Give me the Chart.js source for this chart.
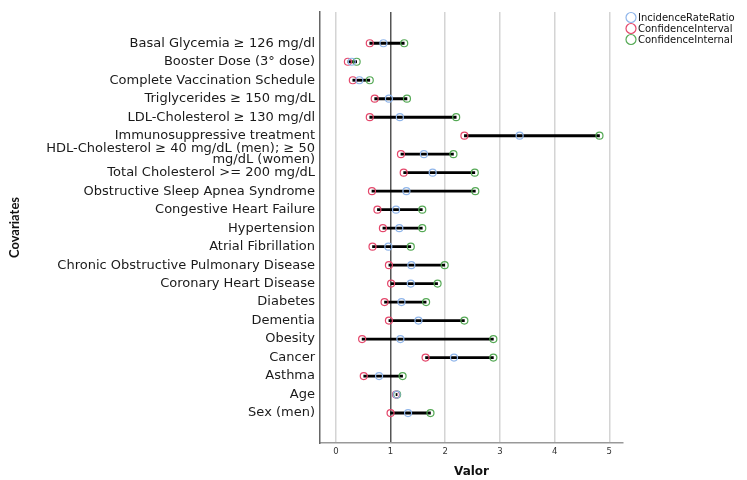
<!DOCTYPE html>
<html>
<head>
<meta charset="utf-8">
<script src="https://cdn.jsdelivr.net/npm/chart.js@4/dist/chart.umd.min.js"></script>
<style>
  html, body { margin: 0; padding: 0; background: #fff; }
  #wrap { width: 747px; height: 480px; }
</style>
</head>
<body>
<div id="wrap"><canvas id="myChart"></canvas></div>
<script>
Chart.defaults.color = '#111';
Chart.defaults.font.family = 'DejaVu Sans';


// DATA
// ================================================================
var rowLabels = [
	'Basal Glycemia \u2265 126 mg/dl',
	'Booster Dose (3\u00b0 dose)',
	'Complete Vaccination Schedule',
	'Triglycerides \u2265 150 mg/dL',
	'LDL-Cholesterol \u2265 130 mg/dl',
	'Immunosuppressive treatment',
	['HDL-Cholesterol \u2265 40 mg/dL (men); \u2265 50', 'mg/dL (women)'],
	'Total Cholesterol >= 200 mg/dL',
	'Obstructive Sleep Apnea Syndrome',
	'Congestive Heart Failure',
	'Hypertension',
	'Atrial Fibrillation',
	'Chronic Obstructive Pulmonary Disease',
	'Coronary Heart Disease',
	'Diabetes',
	'Dementia',
	'Obesity',
	'Cancer',
	'Asthma',
	'Age',
	'Sex (men)'
];

var irr    = [0.87, 0.29, 0.43, 0.97, 1.17, 3.36, 1.61, 1.77, 1.29, 1.10, 1.16, 0.96, 1.38, 1.37, 1.20, 1.51, 1.18, 2.16, 0.79, 1.11, 1.32];
var ciLow  = [0.62, 0.22, 0.31, 0.71, 0.62, 2.35, 1.19, 1.24, 0.66, 0.76, 0.86, 0.67, 0.97, 1.01, 0.89, 0.97, 0.48, 1.64, 0.51, 1.10, 1.00];
var ciHigh = [1.25, 0.38, 0.62, 1.30, 2.20, 4.82, 2.15, 2.54, 2.55, 1.58, 1.58, 1.37, 1.99, 1.86, 1.65, 2.35, 2.88, 2.88, 1.22, 1.12, 1.73];

var seriesNames = ['IncidenceRateRatio', 'ConfidenceInterval', 'ConfidenceInternal'];
var xTicks = [0, 1, 2, 3, 4, 5];

var toPoints = function (arr) {
	return arr.map(function (v, i) { return { x: v, y: i }; });
};


// Datasets
// ================================================================
var pointStyle = {
	type: 'scatter',
	backgroundColor: 'rgba(0,0,0,0)',
	pointRadius: 3.5,
	pointHoverRadius: 3.5,
	pointBorderWidth: 1.2,
	showLine: false
};

var data = {
	datasets: [
		Object.assign({}, pointStyle, { label: seriesNames[0], data: toPoints(irr), borderColor: '#8fb5ea' }),
		Object.assign({}, pointStyle, { label: seriesNames[1], data: toPoints(ciLow), borderColor: '#e4476b' }),
		Object.assign({}, pointStyle, { label: seriesNames[2], data: toPoints(ciHigh), borderColor: '#55a955' }),
		{
			type: 'bar',
			label: 'range',
			indexAxis: 'y',
			data: ciLow.map(function (lo, i) { return { x: [lo, ciHigh[i]], y: i }; }),
			backgroundColor: '#000',
			borderWidth: 0,
			barThickness: 2.2
		}
	]
};


// Legend drawn at top right
// ================================================================
var sideLegend = {
	id: 'sideLegend',
	afterDraw: function (chart) {
		var ctx = chart.ctx;
		ctx.save();
		ctx.font = '10px "DejaVu Sans"';
		ctx.textBaseline = 'middle';
		for (var i = 0; i < 3; i++) {
			var ds = chart.data.datasets[i];
			var y = 17.5 + i * 11;
			ctx.beginPath();
			ctx.arc(631, y, 5, 0, Math.PI * 2);
			ctx.lineWidth = 1.2;
			ctx.strokeStyle = ds.borderColor;
			ctx.stroke();
			ctx.fillStyle = '#111';
			ctx.fillText(ds.label, 638, y + 0.5);
		}
		ctx.restore();
	}
};


// OPTIONS
// ================================================================
var options = {
	responsive: true,
	maintainAspectRatio: false,
	animation: false,
	layout: { padding: { top: 12, right: 124, left: 0, bottom: 0 } },
	plugins: {
		legend: { display: false },
		tooltip: { enabled: false }
	},
	scales: {
		x: {
			type: 'linear',
			min: -0.29,
			max: 5.25,
			offset: false,
			afterBuildTicks: function (scale) {
				scale.ticks = xTicks.map(function (v) { return { value: v }; });
			},
			afterFit: function (scale) { scale.height = 37; },
			ticks: {
				padding: 4,
				color: '#333',
				font: { size: 8.5 }
			},
			grid: {
				drawTicks: false,
				offset: false,
				lineWidth: 1.5,
				color: function (c) { return c.tick && c.tick.value === 1 ? '#555' : '#d4d4d4'; }
			},
			border: { display: true, color: '#999', width: 1.5 },
			title: {
				display: true,
				text: 'Valor',
				padding: { top: 0, bottom: 1 },
				font: { weight: 'bold', size: 12 }
			}
		},
		y: {
			type: 'linear',
			reverse: true,
			offset: false,
			min: -1.69,
			max: 21.62,
			afterBuildTicks: function (scale) {
				scale.ticks = rowLabels.map(function (_, i) { return { value: i }; });
			},
			afterFit: function (scale) { scale.width = 320; },
			ticks: {
				autoSkip: false,
				padding: 5,
				color: '#1a1a1a',
				font: { size: 13, lineHeight: 0.88 },
				callback: function (v) { return rowLabels[v]; }
			},
			grid: { display: false, drawTicks: false, offset: false },
			border: { display: true, color: '#666', width: 1.5 },
			title: {
				display: true,
				text: 'Covariates',
				padding: { top: 7, bottom: 0 },
				font: { weight: 'bold', size: 13, family: 'Lato' }
			}
		}
	}
};


// Create the chart
var ctx = document.getElementById('myChart').getContext('2d');
var Render = new Chart(ctx, {
	type: 'scatter',
	data: data,
	options: options,
	plugins: [sideLegend]
});
</script>
</body>
</html>
